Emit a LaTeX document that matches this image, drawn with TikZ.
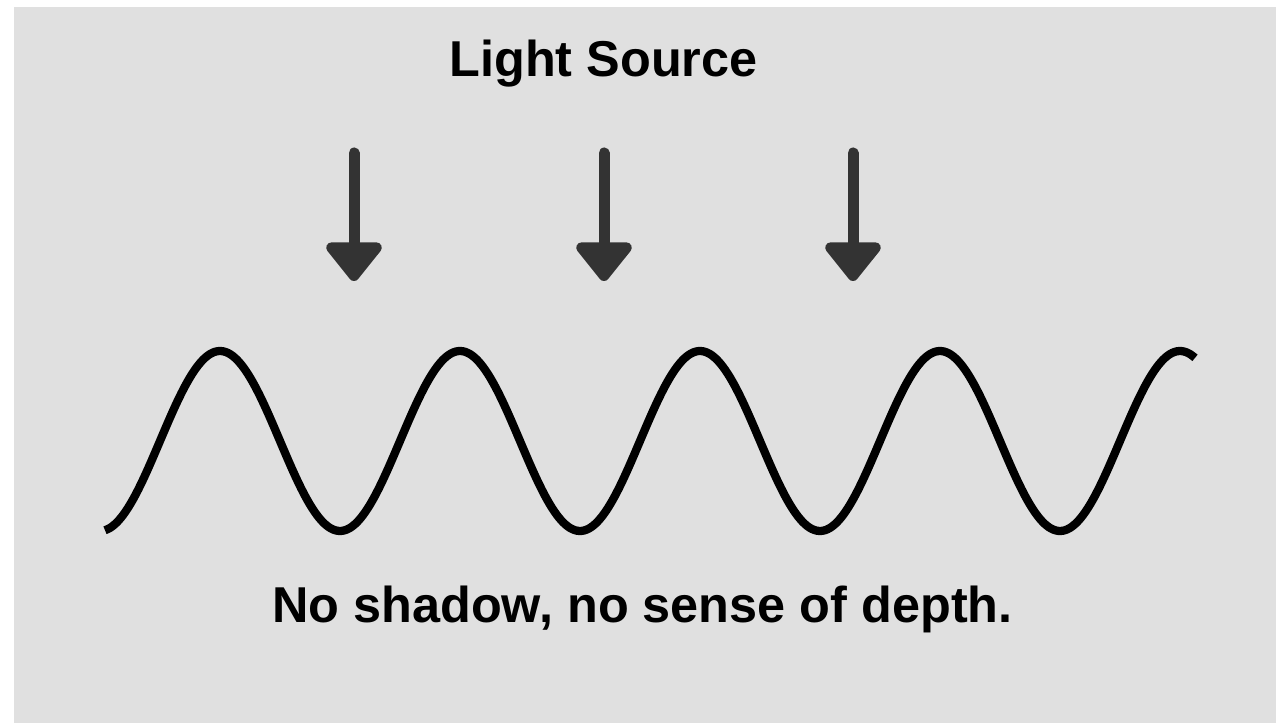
\documentclass[tikz,border=0pt]{standalone}
\usepackage{fontspec}
\setmainfont{Liberation Sans}
\usetikzlibrary{arrows.meta,positioning}
\definecolor{panelgray}{RGB}{224,224,224}
\definecolor{raygray}{RGB}{51,51,51}

\begin{document}
\begin{tikzpicture}[x=0.75pt, y=-0.75pt]
    % Styles
    \tikzstyle{title}=[font=\fontsize{37.8}{45}\selectfont\bfseries, anchor=base, inner sep=0pt]
    \tikzstyle{ray}=[draw=raygray, line width=8.25pt, line cap=round, -{Triangle[width=48pt, length=31.5pt, round]}]
    \tikzstyle{wave}=[draw=black, line width=6.2pt]

    % Background
    \fill[white] (0,0) rectangle (1279,723);
    \fill[panelgray] (14,7) rectangle (1276,723);
    \useasboundingbox (0,0) rectangle (1279,723);

    % Labels
    \node (source) [title] at (603.5,77) {Light Source};
    \node (caption) [title] at (642.5,622) {No shadow, no sense of depth.};

    % Rays
    \foreach \i/\xpos in {1/354, 2/604, 3/853} {
        \coordinate (top\i) at (\xpos,153);
        \coordinate (tip\i) at (\xpos,281);
        \draw [ray] (top\i) -- (tip\i);
    }

    % Surface
    \draw [wave] plot[domain=105:1195, samples=240, smooth] (\x, {441-90*cos(1.5*(\x-220))});
\end{tikzpicture}
\end{document}
